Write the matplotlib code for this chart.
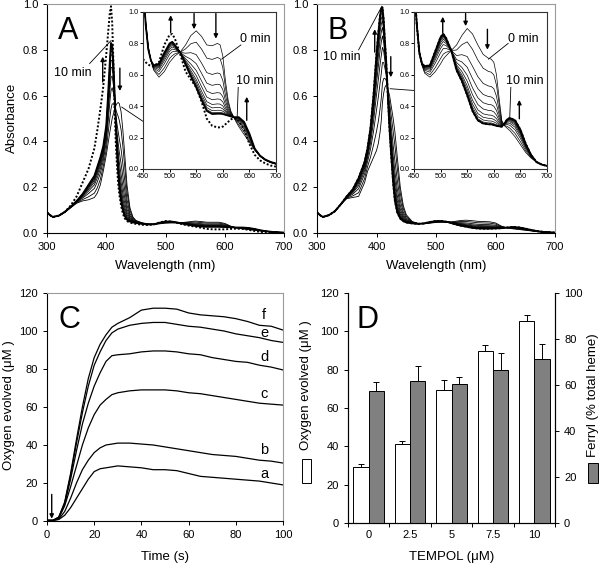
import numpy as np
import matplotlib.pyplot as plt
from matplotlib.patches import Rectangle
from matplotlib.ticker import FormatStrFormatter

plt.rcParams['font.family'] = ['Liberation Sans', 'DejaVu Sans']
plt.rcParams['font.size'] = 8
plt.rcParams['axes.linewidth'] = 0.8
plt.rcParams['xtick.major.size'] = 3
plt.rcParams['ytick.major.size'] = 3
plt.rcParams['xtick.major.width'] = 0.7
plt.rcParams['ytick.major.width'] = 0.7

# ---- panels A/B: main spectra (absorbance vs wavelength, nm)
wl_main = [300, 305, 310, 320, 330, 340, 350, 360, 370, 380, 385, 390, 395, 400, 403, 406, 408,
           410, 412, 414, 416, 418, 420, 422, 425, 428, 431, 435, 440, 445, 450, 460, 470, 480,
           490, 500, 510, 520, 530, 540, 550, 560, 570, 580, 590, 600, 610, 620, 630, 640, 650,
           660, 670, 680, 690, 700]
a_0min = [.090, .078, .070, .075, .090, .110, .130, .140, .145, .155, .175, .210, .270, .340, .390,
          .440, .470, .500, .520, .540, .555, .565, .570, .565, .530, .450, .350, .210, .110, .070,
          .055, .045, .040, .038, .040, .043, .044, .044, .046, .049, .052, .050, .047, .047, .047,
          .042, .030, .022, .018, .015, .012, .009, .006, .004, .003, .002]
a_10min = [.090, .078, .070, .076, .092, .115, .140, .170, .210, .250, .290, .330, .380, .470, .600,
           .750, .830, .820, .740, .620, .480, .360, .270, .200, .140, .100, .075, .058, .050, .046,
           .044, .040, .037, .038, .045, .050, .050, .046, .040, .035, .031, .028, .027, .027, .027,
           .026, .025, .024, .024, .022, .018, .012, .008, .005, .003, .002]
a_dotted = [.090, .078, .070, .076, .092, .120, .160, .220, .280, .370, .450, .540, .640, .780, .870,
            .960, .990, .920, .750, .550, .400, .300, .220, .170, .120, .085, .065, .052, .046, .042,
            .040, .036, .035, .037, .046, .052, .050, .044, .037, .032, .028, .023, .018, .016, .016,
            .016, .018, .019, .018, .014, .009, .005, .003, .002, .001, .001]
b_0min = [.090, .078, .070, .078, .095, .125, .150, .155, .160, .220, .270, .300, .330, .360, .390,
          .440, .490, .570, .610, .635, .645, .640, .620, .600, .550, .500, .440, .330, .200, .120,
          .080, .050, .042, .040, .043, .046, .047, .047, .050, .054, .056, .054, .051, .050, .049,
          .044, .030, .022, .018, .015, .012, .009, .006, .004, .003, .002]
b_10min = [.090, .078, .070, .078, .095, .125, .160, .190, .240, .310, .370, .460, .600, .780, .870,
           .950, .980, .985, .930, .840, .760, .660, .550, .450, .330, .220, .140, .090, .063, .052,
           .046, .042, .040, .042, .048, .052, .052, .048, .040, .033, .028, .023, .020, .019, .019,
           .020, .021, .024, .026, .024, .019, .013, .008, .005, .003, .002]

# ---- insets (450-700 nm, scaled)
wl_inset = [450, 455, 460, 465, 470, 480, 490, 500, 505, 510, 520, 530, 540, 550, 560, 570, 580,
            590, 595, 600, 605, 610, 615, 620, 625, 630, 640, 650, 660, 670, 680, 690, 700]
a_in_0min = [1.2, .95, .78, .69, .63, .585, .62, .68, .70, .72, .745, .79, .85, .88, .845, .79, .785,
             .80, .79, .72, .56, .44, .37, .335, .30, .27, .22, .17, .12, .08, .055, .04, .03]
a_in_10min = [1.2, .92, .76, .69, .66, .67, .74, .80, .81, .79, .74, .665, .59, .52, .44, .37, .35,
              .352, .352, .35, .345, .34, .335, .33, .33, .33, .30, .225, .13, .085, .06, .045, .035]
a_in_dotted = [.70, .68, .665, .655, .655, .68, .79, .855, .86, .83, .73, .62, .57, .52, .43, .32, .275,
               .265, .265, .27, .285, .30, .315, .325, .32, .305, .25, .16, .09, .055, .035, .022, .015]
b_in_0min = [1.2, .95, .76, .66, .61, .585, .62, .67, .70, .72, .755, .79, .85, .895, .86, .79, .73,
             .705, .70, .68, .60, .45, .31, .275, .26, .245, .205, .155, .105, .07, .045, .03, .02]
b_in_10min = [1.2, .93, .74, .67, .655, .66, .75, .84, .86, .835, .755, .63, .56, .47, .37, .31, .29,
              .285, .285, .28, .275, .272, .27, .29, .315, .325, .31, .25, .16, .09, .045, .028, .02]

scan_frac = [0, 0.2, 0.42, 0.58, 0.7, 0.79, 0.86, 0.91, 0.95, 0.98, 1.0]

# ---- panel C: oxygen evolution traces
t_sec = [0, 2.5, 5, 7.5, 10, 12.5, 15, 17.5, 20, 22.5, 25, 27.5, 30, 35, 40, 45, 50, 55, 60, 65,
         70, 75, 80, 85, 90, 95, 100]
o2_f = [.3, .3, 2, 10, 25, 43, 60, 75, 86, 93, 98, 102, 104, 107, 111, 112, 112, 111.5, 109.5,
        108.5, 108, 107.5, 106.5, 105, 103, 102.5, 100.5]
o2_e = [.3, .3, 2, 9.5, 24, 41, 57, 71, 82, 89, 95, 99, 101, 103, 104, 104.5, 104.5, 103.5, 102.5,
        102, 101, 100, 98.5, 97.5, 96.5, 95, 94]
o2_d = [.3, .3, 2, 9, 22, 37, 51, 62, 71, 78, 84, 87, 87.5, 88, 89, 89.5, 89.5, 89, 88, 87.5, 86,
        85, 84, 83.5, 82, 81, 79.5]
o2_c = [.3, .3, 1.5, 8, 18, 29, 40, 49, 56, 61, 64, 66.5, 67.5, 68.5, 69, 69, 69, 68.5, 67.5, 67,
        66, 65, 64, 63, 62, 61.5, 61]
o2_b = [.3, .3, 1, 5, 12, 20, 27, 32, 36, 38.5, 40, 40.5, 41, 41, 40.5, 40, 39, 38, 37, 36, 35,
        34.5, 34, 33, 32, 31.5, 30.5]
o2_a = [.3, .3, .8, 3, 7, 12, 17, 22, 26, 27.5, 28, 28.5, 29, 28.5, 28, 27, 27, 26.5, 25, 23.5,
        23, 22.5, 22, 21.5, 21, 20, 19]
trace_names = ['a', 'b', 'c', 'd', 'e', 'f']
trace_label_y = [25, 37.5, 67, 86.5, 99, 108.5]

# ---- panel D: bars
tempol = ['0', '2.5', '5', '7.5', '10']
o2_mean = [29, 41.2, 69.2, 90, 105.2]
o2_err = [1.8, 1.8, 5.6, 2.7, 3.1]
ferryl_mean = [57.2, 61.9, 60.4, 66.4, 71.3]
ferryl_err = [4.1, 6.2, 3.1, 7.5, 6.5]

W, H = 600, 567
fig = plt.figure(figsize=(6, 5.67), dpi=100)


def frame(ax, gray_box=True):
    if gray_box:
        ax.spines['top'].set_color('#9a9a9a')
        ax.spines['right'].set_color('#9a9a9a')
    ax.tick_params(direction='out', top=False, right=False, labelsize=8)


def box(l, t, r, b):
    return [l / W, 1 - b / H, (r - l) / W, (b - t) / H]


def arrow(ax, tail, tip):
    ax.annotate('', xy=tip, xytext=tail,
                arrowprops=dict(arrowstyle='-|>', color='k', lw=1, mutation_scale=6,
                                shrinkA=0, shrinkB=0))


def spectra(main_rect, inset_rect, s0, s10, sdot, in0, in10, indot, letter, marks):
    ax = fig.add_axes(main_rect)
    frame(ax)
    x = np.array(wl_main)
    for i, f in enumerate(scan_frac):
        y = (1 - f) * np.array(s0) + f * np.array(s10)
        ax.plot(x, y, color='k', lw=1.3 if i == len(scan_frac) - 1 else 0.6)
    ax.plot(x, sdot, color='k', ls=(0, (1, 1)), lw=1.4)
    ax.set_xlim(300, 700)
    ax.set_ylim(0, 1)
    ax.set_xticks([300, 400, 500, 600, 700])
    ax.set_yticks(np.arange(0, 1.01, 0.2))
    ax.yaxis.set_major_formatter(FormatStrFormatter('%.1f'))
    ax.set_xlabel('Wavelength (nm)', fontsize=9.5, labelpad=6)
    ax.text(318, 0.88, letter, fontsize=22, va='center')
    for tail, tip in marks['arrows']:
        arrow(ax, tail, tip)
    for txt, pos, line in marks['labels']:
        ax.text(pos[0], pos[1], txt, fontsize=9, va='center')
        ax.plot(line[0], line[1], color='k', lw=0.6)

    ins = fig.add_axes(inset_rect)
    for s in ins.spines.values():
        s.set_color('#333333')
    ins.tick_params(direction='out', labelsize=5.2, length=2, pad=1)
    xi = np.array(wl_inset)
    for i, f in enumerate(scan_frac):
        y = (1 - f) * np.array(in0) + f * np.array(in10)
        ins.plot(xi, y, color='k', lw=1.3 if i == len(scan_frac) - 1 else 0.5)
    ins.plot(xi, indot, color='k', ls=(0, (1, 1)), lw=1.4)
    ins.set_xlim(450, 700)
    ins.set_ylim(0, 1)
    ins.set_xticks([450, 500, 550, 600, 650, 700])
    ins.set_yticks(np.arange(0, 1.01, 0.2))
    ins.yaxis.set_major_formatter(FormatStrFormatter('%.1f'))
    for tail, tip in marks['in_arrows']:
        arrow(ins, tail, tip)
    for txt, pos, line in marks['in_labels']:
        ins.text(pos[0], pos[1], txt, fontsize=9, va='center')
        ins.plot(line[0], line[1], color='k', lw=0.6)
    return ax


marks_a = {
    'arrows': [((394, 0.66), (394, 0.77)), ((423, 0.72), (423, 0.62))],
    'labels': [('10 min', (311, 0.70), ([372, 408], [0.74, 0.84])),
               ('0 min', (480, 0.44), ([478, 426], [0.46, 0.55]))],
    'in_arrows': [((502, 0.87), (502, 0.98)), ((546, 0.99), (546, 0.89)),
                  ((587, 0.99), (587, 0.83)), ((645, 0.31), (645, 0.46))],
    'in_labels': [('0 min', (632, 0.83), ([634, 598], [0.79, 0.70])),
                  ('10 min', (624, 0.56), ([629, 627], [0.52, 0.33]))],
}
marks_b = {
    'arrows': [((397, 0.79), (397, 0.89)), ((424, 0.77), (424, 0.68))],
    'labels': [('10 min', (310, 0.77), ([370, 409], [0.80, 0.99])),
               ('0 min', (478, 0.61), ([476, 423], [0.62, 0.63]))],
    'in_arrows': [((504, 0.865), (504, 0.97)), ((547, 0.99), (547, 0.91)),
                  ((588, 0.89), (588, 0.76)), ((648, 0.32), (648, 0.44))],
    'in_labels': [('0 min', (626, 0.83), ([627, 590], [0.80, 0.70])),
                  ('10 min', (623, 0.56), ([632, 630], [0.52, 0.33]))],
}

ax_a = spectra(box(47, 4, 284, 233), box(143, 12, 276, 169), a_0min, a_10min, a_dotted,
               a_in_0min, a_in_10min, a_in_dotted, 'A', marks_a)
ax_b = spectra(box(317, 4, 555, 233), box(414, 12, 547, 169), b_0min, b_10min, b_10min,
               b_in_0min, b_in_10min, b_in_10min, 'B', marks_b)
fig.text(12 / W, 1 - 118 / H, 'Absorbance', rotation=90, fontsize=9.5, ha='center', va='center')

# ---- panel C
ax_c = fig.add_axes(box(47, 293, 283, 521))
frame(ax_c)
for name, ys, ly in zip(trace_names, [o2_a, o2_b, o2_c, o2_d, o2_e, o2_f], trace_label_y):
    ax_c.plot(t_sec, ys, color='k', lw=0.9)
    ax_c.text(92, ly, name, fontsize=10.5, ha='center', va='center')
ax_c.set_xlim(0, 100)
ax_c.set_ylim(0, 120)
ax_c.set_xticks(range(0, 101, 20))
ax_c.set_yticks(range(0, 121, 20))
ax_c.set_xlabel('Time (s)', fontsize=9.5, labelpad=8)
ax_c.text(5, 106, 'C', fontsize=22, va='center')
arrow(ax_c, (2, 14), (2, 1.2))
fig.text(9 / W, 1 - 405 / H, 'Oxygen evolved (\u03bcM )', rotation=90, fontsize=9.5,
         ha='center', va='center')

# ---- panel D
ax_d = fig.add_axes(box(348, 293, 555, 523))
ax_d.spines['top'].set_visible(False)
ax_r = ax_d.twinx()
ax_r.spines['top'].set_visible(False)
xpos = np.arange(len(tempol))
bw = 0.37
ax_d.bar(xpos - bw / 2, o2_mean, bw, color='white', edgecolor='k', lw=0.7,
         yerr=[np.zeros(5), o2_err], error_kw=dict(ecolor='k', elinewidth=0.7, capsize=2, capthick=0.7))
ax_r.bar(xpos + bw / 2, ferryl_mean, bw, color='#808080', edgecolor='k', lw=0.7,
         yerr=[np.zeros(5), ferryl_err], error_kw=dict(ecolor='k', elinewidth=0.7, capsize=2, capthick=0.7))
ax_d.set_xlim(-0.5, 4.5)
ax_d.set_ylim(0, 120)
ax_r.set_ylim(0, 100)
ax_d.set_yticks(range(0, 121, 20))
ax_r.set_yticks(range(0, 101, 20))
ax_d.set_xticks(np.arange(-0.5, 4.6, 1))
ax_d.set_xticklabels([])
ax_d.set_xticks(xpos, minor=True)
ax_d.set_xticklabels(tempol, minor=True)
ax_d.tick_params(axis='x', which='minor', length=0, pad=5, labelsize=8)
ax_d.tick_params(direction='out', labelsize=8)
ax_r.tick_params(direction='out', labelsize=8)
ax_d.set_xlabel('TEMPOL (\u03bcM)', fontsize=9.5, labelpad=8)
ax_d.text(-0.3, 106, 'D', fontsize=22, va='center')

fig.text(306 / W, 1 - 385 / H, 'Oxygen evolved (\u03bcM )', rotation=90, fontsize=9.5,
         ha='center', va='center')
fig.text(593 / W, 1 - 395 / H, 'Ferryl (% total heme)', rotation=90, fontsize=9.5,
         ha='center', va='center')
fig.patches.append(Rectangle((302 / W, 1 - 483 / H), 9 / W, 24 / H, transform=fig.transFigure,
                             facecolor='white', edgecolor='k', lw=0.7))
fig.patches.append(Rectangle((588 / W, 1 - 483 / H), 10 / W, 20 / H, transform=fig.transFigure,
                             facecolor='#808080', edgecolor='k', lw=0.7))

fig.savefig('out.png', dpi=100)
